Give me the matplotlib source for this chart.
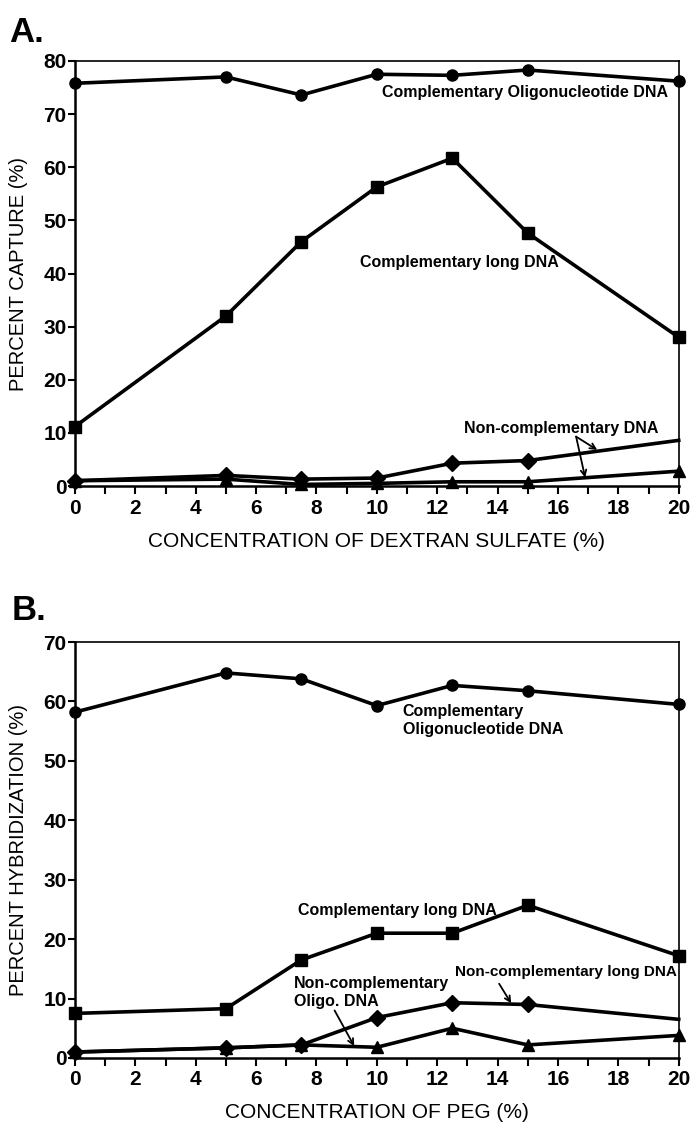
import matplotlib
matplotlib.use("Agg")
import matplotlib.pyplot as plt
from matplotlib.ticker import MultipleLocator

plt.rcParams['font.family'] = ['Liberation Sans', 'DejaVu Sans']

# panel A: dextran sulfate
conc = [0, 5, 7.5, 10, 12.5, 15, 20]
a_oligo = [75.8, 77.0, 73.6, 77.5, 77.3, 78.3, 76.2]
a_long = [11.2, 32.0, 46.0, 56.3, 61.7, 47.6, 28.0]
a_noncomp_dia = [1.0, 2.0, 1.3, 1.5, 4.3, 4.8, 8.6]
a_noncomp_tri = [1.0, 1.3, 0.3, 0.5, 0.8, 0.8, 2.8]

# panel B: PEG
b_oligo = [58.2, 64.8, 63.8, 59.3, 62.7, 61.8, 59.5]
b_long = [7.5, 8.3, 16.5, 21.0, 21.0, 25.7, 17.2]
b_noncomp_long = [1.0, 1.7, 2.2, 6.8, 9.3, 9.0, 6.5]
b_noncomp_oligo = [1.0, 1.7, 2.2, 1.8, 5.0, 2.2, 3.8]

fig = plt.figure(figsize=(6.94, 11.23), dpi=100)
axA = fig.add_axes([0.108, 0.5672, 0.870, 0.3785])
axB = fig.add_axes([0.108, 0.0579, 0.870, 0.3704])

lw = 2.6
kw = dict(color='black', lw=lw, clip_on=False, zorder=3)


def style(ax, ymax, xlabel, ylabel):
    ax.set_xlim(0, 20)
    ax.set_ylim(0, ymax)
    ax.xaxis.set_major_locator(MultipleLocator(2))
    ax.xaxis.set_minor_locator(MultipleLocator(1))
    ax.yaxis.set_major_locator(MultipleLocator(10))
    ax.tick_params(axis='x', which='both', direction='out', length=6, width=1.5,
                   pad=3)
    ax.tick_params(axis='y', which='major', direction='out', length=5, width=1.5,
                   pad=1)
    for lab in ax.get_xticklabels() + ax.get_yticklabels():
        lab.set_fontsize(15)
        lab.set_fontweight('bold')
    for s in ['left', 'bottom']:
        ax.spines[s].set_linewidth(1.8)
    for s in ['top', 'right']:
        ax.spines[s].set_linewidth(1.2)
    ax.set_xlabel(xlabel, fontsize=15)
    ax.set_ylabel(ylabel, fontsize=14.5)
    ax.xaxis.set_label_coords(0.5, -0.108)
    ax.yaxis.set_label_coords(-0.078, 0.5)


# panel A
axA.plot(conc, a_oligo, marker='o', ms=8, **kw)
axA.plot(conc, a_long, marker='s', ms=8, **kw)
axA.plot(conc[:-1], a_noncomp_dia[:-1], marker='D', ms=8, **kw)
axA.plot(conc[-2:], a_noncomp_dia[-2:], **kw)
axA.plot(conc, a_noncomp_tri, marker='^', ms=9, **kw)
style(axA, 80, 'CONCENTRATION OF DEXTRAN SULFATE (%)', 'PERCENT CAPTURE (%)')

tk = dict(fontsize=11.5, fontweight='bold')
axA.text(10.17, 74.0, 'Complementary Oligonucleotide DNA', va='center', **tk)
axA.text(9.44, 42.0, 'Complementary long DNA', va='center', **tk)
axA.text(12.9, 10.9, 'Non-complementary DNA', va='center', **tk)
arr = dict(arrowstyle='->', color='black', lw=1.3, shrinkA=0, shrinkB=0)
axA.annotate('', xy=(17.3, 6.8), xytext=(16.6, 9.3), arrowprops=arr)
axA.annotate('', xy=(16.9, 1.6), xytext=(16.6, 9.3), arrowprops=arr)

# panel B
axB.plot(conc, b_oligo, marker='o', ms=8, **kw)
axB.plot(conc, b_long, marker='s', ms=8, **kw)
axB.plot(conc[:-1], b_noncomp_long[:-1], marker='D', ms=8, **kw)
axB.plot(conc[-2:], b_noncomp_long[-2:], **kw)
axB.plot(conc, b_noncomp_oligo, marker='^', ms=9, **kw)
style(axB, 70, 'CONCENTRATION OF PEG (%)', 'PERCENT HYBRIDIZATION (%)')

axB.text(10.86, 56.8, 'Complementary\nOligonucleotide DNA', va='center',
         linespacing=1.25, **tk)
axB.text(7.4, 24.9, 'Complementary long DNA', va='center', **tk)
axB.text(19.93, 14.5, 'Non-complementary long DNA', va='center', ha='right',
         fontsize=11, fontweight='bold')
axB.text(7.25, 11.1, 'Non-complementary\nOligo. DNA', va='center',
         linespacing=1.25, **tk)
axB.annotate('', xy=(14.45, 9.2), xytext=(14.05, 12.5), arrowprops=arr)
axB.annotate('', xy=(9.25, 2.0), xytext=(8.6, 8.0), arrowprops=arr)

fig.text(0.013, 1 - 32 / 1123, 'A.', fontsize=25, fontweight='bold', va='center')
fig.text(0.017, 1 - 610 / 1123, 'B.', fontsize=25, fontweight='bold', va='center')

fig.savefig('out.png', dpi=100)
